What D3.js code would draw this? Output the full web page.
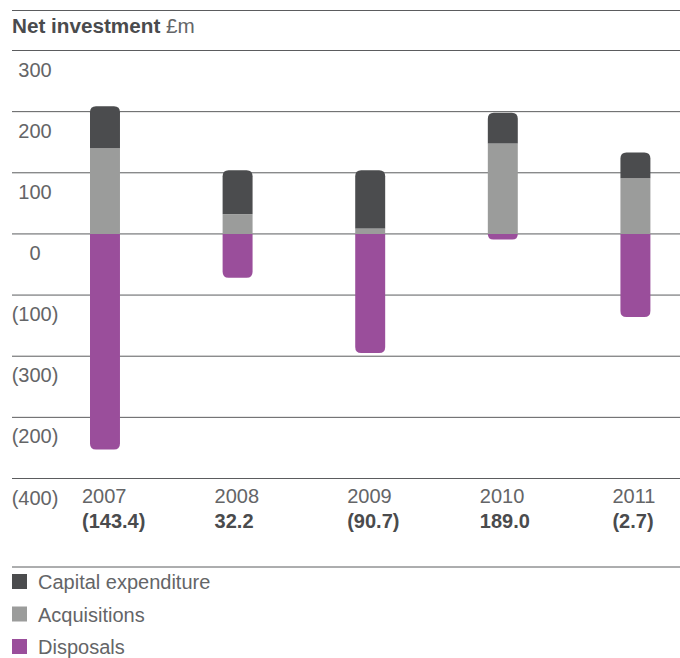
<!DOCTYPE html>
<html>
<head>
<meta charset="utf-8">
<script src="https://cdn.jsdelivr.net/npm/d3@7"></script>
<style>
  html, body { margin: 0; padding: 0; background: #fff; }
  svg { display: block; font-family: "Liberation Sans", Arial, sans-serif; }
</style>
</head>
<body>
<svg id="chart" width="680" height="658"></svg>
<script>
// Net investment, £m, by year
const years = ["2007", "2008", "2009", "2010", "2011"];
const capitalExpenditure = [69, 72, 95, 50, 42];
const acquisitions = [140, 32, 9, 148, 91];
const disposals = [-352.4, -71.8, -194.7, -9, -135.7];
const netInvestment = [-143.4, 32.2, -90.7, 189.0, -2.7];

const tickValues = [300, 200, 100, 0, -100, -200, -300, -400];
const tickLabels = ["300", "200", "100", "0", "(100)", "(300)", "(200)", "(400)"];

const seriesNames = ["Capital expenditure", "Acquisitions", "Disposals"];
const seriesKeys = ["capex", "acq", "disp"];
const colours = { capex: "#4b4c4e", acq: "#9b9c9b", disp: "#9a4e9b" };

const textGrey = "#646567";
const textDark = "#4a4b4d";
const ruleGrey = "#5b5c5e";

const svg = d3.select("#chart");
const W = 680;

const y = d3.scaleLinear().domain([-400, 300]).range([478.5, 50.5]);
const x = d3.scaleBand().domain(years).range([90, 650.4]).paddingInner(0.774).paddingOuter(0);

// rows for the stack
const rows = years.map((yr, i) => ({
  year: yr,
  acq: acquisitions[i],
  capex: capitalExpenditure[i],
  disp: disposals[i]
}));

const stack = d3.stack()
  .keys(["acq", "capex", "disp"])
  .offset(d3.stackOffsetDiverging);
const stacked = stack(rows);

// top rule and title
svg.append("line")
  .attr("x1", 12).attr("x2", W).attr("y1", 10.5).attr("y2", 10.5)
  .attr("stroke", ruleGrey).attr("stroke-width", 1);

const title = svg.append("text").attr("x", 12).attr("y", 32.5)
  .attr("font-size", 20.7).attr("fill", textDark);
title.append("tspan").attr("font-weight", "bold").text("Net investment");
title.append("tspan").attr("fill", textGrey).text(" £m");

// gridlines and value labels
const grid = svg.append("g");
grid.selectAll("line").data(tickValues).join("line")
  .attr("x1", 12).attr("x2", W)
  .attr("y1", d => y(d)).attr("y2", d => y(d))
  .attr("stroke", ruleGrey).attr("stroke-width", 1);
grid.selectAll("text").data(tickValues).join("text")
  .attr("x", 35).attr("y", d => y(d) + 26)
  .attr("text-anchor", "middle")
  .attr("font-size", 20).attr("fill", textGrey)
  .text((d, i) => tickLabels[i]);

// bar segment path with optional rounded top or bottom corners
function segPath(x0, w, yTop, yBot, roundTop, roundBot, r) {
  const h = yBot - yTop;
  const rt = roundTop ? Math.min(r, h, w / 2) : 0;
  const rb = roundBot ? Math.min(r, h, w / 2) : 0;
  const x1 = x0 + w;
  return `M${x0},${yTop + rt}` +
    (rt ? `Q${x0},${yTop} ${x0 + rt},${yTop}` : "") +
    `L${x1 - rt},${yTop}` +
    (rt ? `Q${x1},${yTop} ${x1},${yTop + rt}` : "") +
    `L${x1},${yBot - rb}` +
    (rb ? `Q${x1},${yBot} ${x1 - rb},${yBot}` : "") +
    `L${x0 + rb},${yBot}` +
    (rb ? `Q${x0},${yBot} ${x0},${yBot - rb}` : "") +
    "Z";
}

const bars = svg.append("g");
stacked.forEach(layer => {
  const key = layer.key;
  bars.append("g").selectAll("path").data(layer).join("path")
    .attr("fill", colours[key])
    .attr("d", d => {
      const yTop = y(Math.max(d[0], d[1]));
      const yBot = y(Math.min(d[0], d[1]));
      return segPath(x(d.data.year), x.bandwidth(), yTop, yBot,
        key === "capex", key === "disp", 6);
    });
});

// year and net labels
const fmt = v => v < 0 ? `(${d3.format(".1f")(-v)})` : d3.format(".1f")(v);
const labels = svg.append("g");
labels.selectAll("text.year").data(years).join("text")
  .attr("class", "year")
  .attr("x", d => x(d) - 8).attr("y", 503)
  .attr("font-size", 20).attr("fill", textGrey)
  .text(d => d);
labels.selectAll("text.net").data(years).join("text")
  .attr("class", "net")
  .attr("x", d => x(d) - 8).attr("y", 528)
  .attr("font-size", 20).attr("font-weight", "bold").attr("fill", textDark)
  .text((d, i) => fmt(netInvestment[i]));

// legend
svg.append("line")
  .attr("x1", 12).attr("x2", W).attr("y1", 567).attr("y2", 567)
  .attr("stroke", ruleGrey).attr("stroke-width", 1);
const legend = svg.append("g").selectAll("g").data(seriesKeys).join("g")
  .attr("transform", (d, i) => `translate(12, ${574 + i * 32.5})`);
legend.append("rect").attr("width", 15).attr("height", 15)
  .attr("fill", d => colours[d]);
legend.append("text").attr("x", 26).attr("y", 15)
  .attr("font-size", 20).attr("fill", textGrey)
  .text((d, i) => seriesNames[i]);
</script>
</body>
</html>
